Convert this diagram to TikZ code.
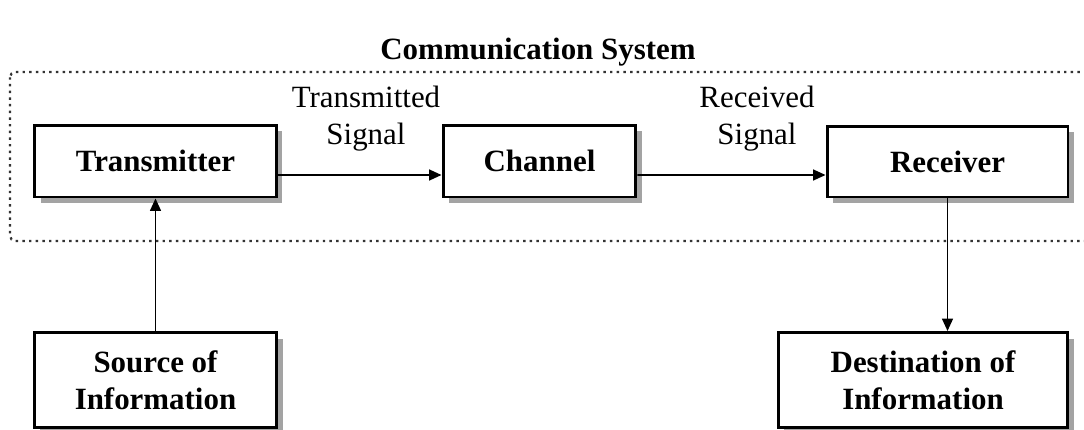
\documentclass[tikz,border=0pt]{standalone}
\usepackage{fontspec}
\setmainfont{Liberation Serif}
\usetikzlibrary{arrows.meta,positioning,calc,shadows}

\begin{document}
\begin{tikzpicture}
[x=0.02cm,y=-0.02cm,>={Triangle[length=0.25cm,width=0.22cm]},
b/.style={draw,line width=1.7pt,fill=white,align=center,inner sep=0pt,
  font=\fontsize{17.6}{21}\selectfont\bfseries,
  drop shadow={shadow xshift=0.12cm,shadow yshift=-0.12cm,fill=black!60,opacity=0.6}},
l/.style={align=center,font=\fontsize{17.6}{21}\selectfont},
a/.style={->,line width=0.9pt}]
\path[use as bounding box,clip] (0,0) rectangle (1084,429);
\node[font=\fontsize{17.6}{21}\selectfont\bfseries] (title) at (538,52) {Communication System};
\draw[line width=1.3pt,black!80,dash pattern=on 1.4pt off 2.4pt,rounded corners=3pt] (10,72) rectangle (1120,241);
\node[b,minimum width=4.84cm,minimum height=1.44cm] (tx) at (155.5,161) {Transmitter};
\node[b,minimum width=3.86cm,minimum height=1.44cm] (ch) at (539.5,161) {Channel};
\node[b,minimum width=4.82cm,minimum height=1.42cm] (rx) at (947.5,161.5) {Receiver};
\node[b,minimum width=4.86cm,minimum height=1.9cm] (src) at (155.5,380) {Source of\\Information};
\node[b,minimum width=5.8cm,minimum height=1.9cm] (dst) at (923,380) {Destination of\\Information};
\node[l] (ts) at (366,119) {Transmitted\\Signal};
\node[l] (rs) at (757,119) {Received\\Signal};
\draw[a] ([yshift=-0.28cm]tx.east) -- ([yshift=-0.28cm]ch.west);
\draw[a] ([yshift=-0.28cm]ch.east) -- ([yshift=-0.27cm]rx.west);
\draw[a] (src.north) -- (tx.south);
\draw[a] (rx.south) -- (rx.south |- dst.north);
\end{tikzpicture}
\end{document}
